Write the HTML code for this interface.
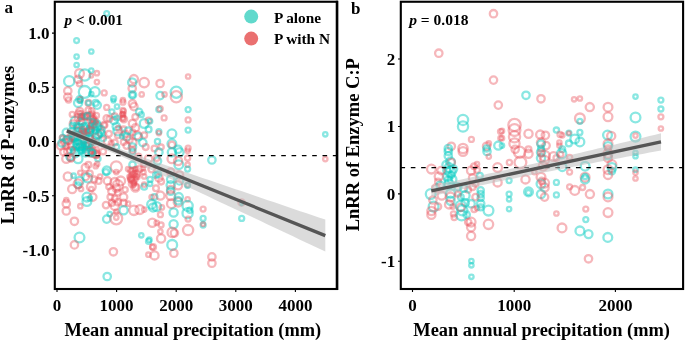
<!DOCTYPE html>
<html><head><meta charset="utf-8"><style>
html,body{margin:0;padding:0;background:#fff;}
svg{display:block;filter:blur(0.35px);}
text{font-family:"Liberation Serif", serif;font-weight:bold;fill:#000;}
.t{stroke:#06cbc2;stroke-opacity:0.47;}
.r{stroke:#e84f5a;stroke-opacity:0.41;}
</style></head><body>
<svg width="685" height="340" viewBox="0 0 685 340">
<rect x="0" y="0" width="685" height="340" fill="#fff"/>
<!-- panel a -->
<text x="4.5" y="13.3" font-size="17">a</text>
<g fill="none" stroke-width="2.3">
<circle class="t" cx="106.7" cy="13.5" r="2.4"/>
<circle class="t" cx="76.6" cy="40.6" r="2.4"/>
<circle class="t" cx="91.3" cy="51.5" r="2.2"/>
<circle class="t" cx="76.6" cy="56.6" r="2.2"/>
<circle class="t" cx="76.6" cy="65.0" r="2.2"/>
<circle class="r" cx="79.5" cy="73.5" r="4.4"/>
<circle class="t" cx="84.7" cy="75.0" r="5.6"/>
<circle class="t" cx="91.3" cy="70.6" r="2.2"/>
<circle class="r" cx="91.3" cy="75.7" r="1.8"/>
<circle class="r" cx="96.9" cy="73.2" r="2.2"/>
<circle class="r" cx="78.1" cy="79.4" r="3.7"/>
<circle class="r" cx="79.5" cy="83.8" r="2.6"/>
<circle class="t" cx="69.2" cy="81.2" r="5.1"/>
<circle class="r" cx="96.9" cy="82.1" r="2.2"/>
<circle class="r" cx="67.8" cy="90.9" r="3.7"/>
<circle class="r" cx="67.8" cy="97.1" r="3.7"/>
<circle class="t" cx="84.7" cy="91.9" r="5.9"/>
<circle class="t" cx="95.0" cy="91.9" r="4.7"/>
<circle class="t" cx="91.3" cy="94.1" r="2.2"/>
<circle class="r" cx="104.2" cy="92.9" r="2.5"/>
<circle class="t" cx="79.5" cy="99.3" r="3.2"/>
<circle class="r" cx="80.3" cy="99.3" r="2.2"/>
<circle class="t" cx="113.6" cy="98.5" r="2.5"/>
<circle class="r" cx="133.9" cy="79.1" r="4.1"/>
<circle class="t" cx="132.2" cy="82.4" r="4.1"/>
<circle class="r" cx="144.2" cy="82.6" r="4.7"/>
<circle class="r" cx="132.2" cy="88.5" r="3.7"/>
<circle class="t" cx="132.5" cy="94.9" r="3.7"/>
<circle class="t" cx="132.5" cy="94.9" r="2.6"/>
<circle class="r" cx="141.7" cy="94.4" r="2.2"/>
<circle class="r" cx="122.9" cy="100.0" r="2.2"/>
<circle class="r" cx="68.5" cy="100.0" r="2.6"/>
<circle class="t" cx="78.1" cy="102.9" r="4.1"/>
<circle class="t" cx="80.3" cy="100.7" r="2.2"/>
<circle class="r" cx="88.4" cy="102.9" r="2.9"/>
<circle class="t" cx="88.4" cy="102.9" r="2.2"/>
<circle class="t" cx="97.2" cy="105.1" r="3.7"/>
<circle class="t" cx="95.7" cy="102.9" r="2.9"/>
<circle class="r" cx="106.7" cy="107.4" r="2.5"/>
<circle class="t" cx="113.4" cy="100.7" r="1.8"/>
<circle class="r" cx="122.9" cy="102.2" r="2.5"/>
<circle class="r" cx="132.5" cy="103.7" r="3.7"/>
<circle class="r" cx="133.9" cy="106.6" r="3.7"/>
<circle class="t" cx="139.1" cy="111.8" r="3.2"/>
<circle class="t" cx="141.3" cy="114.7" r="2.5"/>
<circle class="r" cx="72.2" cy="114.4" r="2.5"/>
<circle class="r" cx="81.0" cy="114.0" r="2.9"/>
<circle class="r" cx="88.4" cy="110.3" r="2.9"/>
<circle class="r" cx="89.8" cy="116.2" r="3.7"/>
<circle class="r" cx="92.0" cy="114.0" r="2.6"/>
<circle class="r" cx="96.4" cy="115.4" r="2.6"/>
<circle class="t" cx="117.0" cy="106.6" r="2.2"/>
<circle class="t" cx="111.9" cy="111.8" r="2.5"/>
<circle class="r" cx="122.9" cy="110.3" r="2.5"/>
<circle class="r" cx="122.9" cy="114.4" r="2.5"/>
<circle class="r" cx="122.9" cy="118.4" r="2.6"/>
<circle class="r" cx="106.7" cy="118.4" r="3.2"/>
<circle class="r" cx="114.8" cy="116.2" r="2.9"/>
<circle class="t" cx="114.1" cy="120.6" r="3.7"/>
<circle class="t" cx="75.1" cy="121.3" r="4.4"/>
<circle class="r" cx="72.9" cy="123.5" r="3.2"/>
<circle class="t" cx="79.5" cy="127.9" r="4.4"/>
<circle class="t" cx="85.4" cy="126.5" r="3.7"/>
<circle class="t" cx="97.2" cy="126.5" r="4.4"/>
<circle class="t" cx="97.2" cy="133.8" r="4.4"/>
<circle class="t" cx="78.1" cy="135.3" r="3.7"/>
<circle class="t" cx="85.4" cy="135.3" r="3.7"/>
<circle class="r" cx="91.3" cy="129.4" r="2.9"/>
<circle class="t" cx="89.8" cy="138.2" r="3.7"/>
<circle class="r" cx="92.8" cy="122.1" r="2.9"/>
<circle class="t" cx="82.5" cy="131.6" r="2.9"/>
<circle class="t" cx="95.7" cy="130.1" r="3.2"/>
<circle class="t" cx="76.6" cy="130.9" r="2.9"/>
<circle class="t" cx="66.3" cy="132.4" r="3.7"/>
<circle class="r" cx="67.8" cy="139.7" r="4.4"/>
<circle class="r" cx="64.8" cy="142.6" r="3.7"/>
<circle class="r" cx="72.2" cy="145.6" r="4.4"/>
<circle class="t" cx="78.1" cy="144.1" r="4.4"/>
<circle class="t" cx="85.4" cy="145.6" r="3.7"/>
<circle class="t" cx="86.9" cy="147.1" r="2.9"/>
<circle class="r" cx="104.5" cy="125.0" r="2.2"/>
<circle class="r" cx="101.6" cy="133.8" r="3.7"/>
<circle class="t" cx="103.1" cy="138.2" r="2.9"/>
<circle class="r" cx="108.9" cy="133.8" r="2.9"/>
<circle class="r" cx="107.5" cy="141.2" r="3.7"/>
<circle class="t" cx="116.3" cy="126.5" r="3.7"/>
<circle class="t" cx="117.8" cy="130.9" r="4.4"/>
<circle class="r" cx="117.8" cy="135.3" r="2.9"/>
<circle class="r" cx="114.8" cy="142.6" r="2.9"/>
<circle class="t" cx="116.3" cy="147.1" r="2.9"/>
<circle class="r" cx="123.6" cy="129.4" r="2.9"/>
<circle class="r" cx="125.1" cy="133.8" r="3.2"/>
<circle class="t" cx="126.6" cy="136.8" r="3.7"/>
<circle class="r" cx="129.5" cy="139.7" r="3.2"/>
<circle class="r" cx="132.5" cy="123.5" r="3.7"/>
<circle class="r" cx="135.4" cy="127.9" r="3.7"/>
<circle class="r" cx="132.5" cy="132.4" r="2.9"/>
<circle class="r" cx="136.9" cy="135.3" r="4.1"/>
<circle class="t" cx="138.4" cy="136.8" r="3.7"/>
<circle class="r" cx="132.5" cy="142.6" r="4.1"/>
<circle class="t" cx="132.5" cy="147.1" r="3.7"/>
<circle class="r" cx="126.6" cy="145.6" r="3.2"/>
<circle class="t" cx="144.2" cy="123.5" r="4.4"/>
<circle class="t" cx="148.6" cy="129.4" r="2.9"/>
<circle class="r" cx="144.2" cy="135.3" r="2.9"/>
<circle class="r" cx="148.6" cy="120.6" r="2.9"/>
<circle class="t" cx="150.1" cy="121.3" r="2.2"/>
<circle class="t" cx="142.8" cy="142.6" r="3.7"/>
<circle class="r" cx="145.7" cy="147.1" r="2.9"/>
<circle class="r" cx="154.5" cy="148.5" r="2.9"/>
<circle class="r" cx="67.8" cy="151.5" r="3.7"/>
<circle class="t" cx="75.1" cy="152.9" r="4.4"/>
<circle class="t" cx="78.1" cy="158.8" r="4.4"/>
<circle class="r" cx="70.7" cy="157.4" r="3.7"/>
<circle class="t" cx="85.4" cy="152.9" r="3.7"/>
<circle class="r" cx="89.8" cy="152.2" r="4.4"/>
<circle class="t" cx="87.6" cy="151.0" r="4.4"/>
<circle class="r" cx="95.7" cy="154.4" r="3.7"/>
<circle class="r" cx="92.8" cy="150.0" r="2.9"/>
<circle class="t" cx="97.9" cy="158.8" r="2.6"/>
<circle class="r" cx="103.1" cy="151.5" r="2.9"/>
<circle class="r" cx="66.3" cy="158.8" r="4.1"/>
<circle class="r" cx="85.4" cy="167.6" r="3.7"/>
<circle class="r" cx="88.4" cy="164.7" r="2.9"/>
<circle class="r" cx="95.7" cy="166.2" r="2.2"/>
<circle class="r" cx="97.2" cy="164.0" r="2.2"/>
<circle class="r" cx="116.3" cy="166.9" r="5.6"/>
<circle class="r" cx="116.3" cy="172.1" r="2.2"/>
<circle class="t" cx="106.7" cy="170.6" r="4.1"/>
<circle class="t" cx="106.0" cy="172.1" r="2.9"/>
<circle class="t" cx="132.5" cy="151.5" r="2.9"/>
<circle class="r" cx="132.5" cy="150.0" r="2.9"/>
<circle class="t" cx="132.5" cy="164.7" r="3.2"/>
<circle class="r" cx="128.1" cy="169.1" r="2.2"/>
<circle class="r" cx="136.1" cy="169.1" r="2.2"/>
<circle class="r" cx="142.8" cy="168.4" r="2.2"/>
<circle class="r" cx="143.5" cy="172.1" r="2.2"/>
<circle class="r" cx="144.2" cy="164.0" r="2.9"/>
<circle class="r" cx="138.4" cy="156.6" r="2.9"/>
<circle class="r" cx="148.6" cy="158.8" r="3.7"/>
<circle class="r" cx="151.6" cy="169.1" r="3.2"/>
<circle class="r" cx="132.5" cy="175.0" r="3.2"/>
<circle class="r" cx="133.9" cy="179.4" r="3.7"/>
<circle class="r" cx="132.5" cy="183.8" r="3.7"/>
<circle class="r" cx="135.4" cy="187.5" r="4.1"/>
<circle class="r" cx="131.0" cy="177.9" r="2.9"/>
<circle class="r" cx="136.9" cy="176.5" r="2.9"/>
<circle class="r" cx="133.9" cy="182.4" r="2.2"/>
<circle class="r" cx="144.2" cy="176.5" r="2.2"/>
<circle class="t" cx="144.2" cy="186.8" r="2.9"/>
<circle class="r" cx="144.2" cy="184.6" r="2.2"/>
<circle class="r" cx="67.8" cy="176.5" r="4.1"/>
<circle class="t" cx="73.6" cy="175.7" r="2.2"/>
<circle class="r" cx="80.3" cy="172.8" r="2.2"/>
<circle class="r" cx="85.4" cy="176.5" r="3.7"/>
<circle class="t" cx="87.6" cy="177.9" r="4.4"/>
<circle class="r" cx="89.8" cy="173.5" r="2.9"/>
<circle class="t" cx="79.5" cy="180.9" r="4.1"/>
<circle class="t" cx="78.1" cy="185.3" r="2.9"/>
<circle class="r" cx="78.1" cy="183.8" r="4.4"/>
<circle class="r" cx="81.0" cy="189.0" r="2.2"/>
<circle class="r" cx="91.3" cy="186.8" r="4.4"/>
<circle class="r" cx="91.3" cy="189.0" r="2.2"/>
<circle class="r" cx="94.2" cy="179.4" r="2.9"/>
<circle class="r" cx="98.6" cy="180.9" r="2.9"/>
<circle class="r" cx="107.5" cy="180.9" r="3.7"/>
<circle class="r" cx="100.1" cy="176.5" r="2.2"/>
<circle class="r" cx="72.2" cy="189.0" r="4.1"/>
<circle class="r" cx="114.8" cy="182.4" r="4.4"/>
<circle class="r" cx="117.8" cy="185.3" r="5.1"/>
<circle class="r" cx="116.3" cy="188.2" r="3.7"/>
<circle class="r" cx="111.9" cy="191.2" r="3.7"/>
<circle class="r" cx="120.7" cy="180.9" r="4.4"/>
<circle class="r" cx="108.9" cy="186.8" r="2.6"/>
<circle class="r" cx="117.8" cy="192.6" r="2.9"/>
<circle class="r" cx="125.1" cy="189.7" r="2.6"/>
<circle class="r" cx="123.6" cy="197.1" r="3.7"/>
<circle class="t" cx="86.9" cy="197.1" r="4.4"/>
<circle class="r" cx="92.8" cy="197.1" r="3.7"/>
<circle class="t" cx="89.8" cy="198.5" r="2.2"/>
<circle class="r" cx="66.3" cy="200.0" r="2.2"/>
<circle class="t" cx="150.1" cy="179.4" r="2.6"/>
<circle class="t" cx="150.1" cy="183.8" r="2.2"/>
<circle class="t" cx="156.0" cy="175.0" r="2.9"/>
<circle class="t" cx="154.5" cy="197.1" r="2.9"/>
<circle class="r" cx="151.6" cy="197.1" r="2.2"/>
<circle class="r" cx="114.8" cy="198.5" r="2.9"/>
<circle class="r" cx="110.4" cy="197.1" r="2.9"/>
<circle class="r" cx="66.3" cy="203.7" r="3.7"/>
<circle class="r" cx="66.3" cy="211.0" r="3.7"/>
<circle class="t" cx="86.9" cy="201.5" r="4.4"/>
<circle class="r" cx="80.3" cy="206.2" r="2.2"/>
<circle class="r" cx="74.4" cy="221.3" r="3.7"/>
<circle class="t" cx="79.5" cy="237.5" r="4.9"/>
<circle class="r" cx="74.4" cy="244.9" r="3.7"/>
<circle class="r" cx="106.0" cy="205.1" r="3.2"/>
<circle class="r" cx="111.9" cy="202.9" r="2.9"/>
<circle class="r" cx="114.8" cy="205.9" r="4.1"/>
<circle class="r" cx="117.8" cy="202.2" r="3.2"/>
<circle class="r" cx="123.6" cy="202.9" r="3.2"/>
<circle class="r" cx="128.1" cy="203.7" r="2.2"/>
<circle class="t" cx="123.6" cy="210.3" r="4.1"/>
<circle class="r" cx="133.9" cy="210.3" r="4.7"/>
<circle class="r" cx="139.8" cy="209.6" r="4.4"/>
<circle class="r" cx="144.2" cy="209.6" r="2.2"/>
<circle class="r" cx="116.3" cy="211.8" r="2.2"/>
<circle class="t" cx="106.7" cy="219.1" r="3.7"/>
<circle class="t" cx="109.7" cy="214.0" r="2.2"/>
<circle class="r" cx="116.3" cy="218.4" r="5.9"/>
<circle class="r" cx="116.3" cy="217.6" r="2.2"/>
<circle class="t" cx="151.6" cy="204.4" r="4.4"/>
<circle class="t" cx="153.1" cy="207.4" r="4.1"/>
<circle class="r" cx="152.3" cy="222.8" r="4.1"/>
<circle class="t" cx="141.3" cy="235.3" r="2.2"/>
<circle class="t" cx="148.6" cy="241.2" r="2.6"/>
<circle class="t" cx="149.4" cy="239.7" r="2.2"/>
<circle class="r" cx="153.1" cy="247.1" r="2.9"/>
<circle class="r" cx="113.4" cy="251.8" r="3.7"/>
<circle class="t" cx="107.2" cy="276.5" r="3.7"/>
<circle class="r" cx="152.3" cy="247.1" r="2.2"/>
<circle class="r" cx="148.4" cy="254.7" r="2.2"/>
<circle class="r" cx="154.5" cy="255.4" r="4.1"/>
<circle class="r" cx="160.1" cy="83.5" r="3.7"/>
<circle class="r" cx="188.1" cy="76.5" r="2.2"/>
<circle class="t" cx="176.3" cy="92.2" r="5.6"/>
<circle class="r" cx="176.3" cy="96.8" r="5.6"/>
<circle class="t" cx="160.1" cy="95.6" r="3.7"/>
<circle class="r" cx="164.5" cy="94.4" r="2.2"/>
<circle class="t" cx="158.9" cy="109.6" r="2.6"/>
<circle class="r" cx="160.1" cy="108.8" r="2.6"/>
<circle class="r" cx="164.1" cy="117.9" r="2.5"/>
<circle class="t" cx="188.1" cy="109.6" r="2.5"/>
<circle class="r" cx="188.1" cy="119.9" r="2.5"/>
<circle class="t" cx="188.1" cy="130.1" r="2.5"/>
<circle class="t" cx="158.9" cy="131.6" r="2.5"/>
<circle class="r" cx="158.9" cy="133.1" r="2.2"/>
<circle class="t" cx="171.9" cy="133.8" r="4.4"/>
<circle class="t" cx="157.5" cy="141.5" r="2.6"/>
<circle class="t" cx="171.9" cy="143.8" r="4.4"/>
<circle class="r" cx="171.9" cy="144.9" r="3.2"/>
<circle class="r" cx="161.1" cy="147.1" r="2.6"/>
<circle class="t" cx="178.1" cy="149.3" r="3.7"/>
<circle class="r" cx="188.1" cy="148.2" r="2.5"/>
<circle class="t" cx="158.9" cy="152.2" r="3.7"/>
<circle class="t" cx="157.5" cy="161.0" r="3.7"/>
<circle class="r" cx="156.7" cy="158.1" r="2.9"/>
<circle class="t" cx="171.9" cy="152.2" r="4.1"/>
<circle class="t" cx="179.5" cy="152.2" r="4.1"/>
<circle class="r" cx="171.9" cy="158.8" r="4.4"/>
<circle class="t" cx="178.8" cy="164.7" r="4.4"/>
<circle class="r" cx="178.1" cy="161.0" r="4.1"/>
<circle class="r" cx="187.6" cy="150.7" r="2.2"/>
<circle class="r" cx="187.6" cy="158.1" r="2.6"/>
<circle class="r" cx="187.6" cy="164.7" r="2.2"/>
<circle class="t" cx="187.6" cy="169.1" r="2.5"/>
<circle class="t" cx="211.9" cy="160.0" r="3.7"/>
<circle class="r" cx="170.7" cy="172.1" r="3.7"/>
<circle class="t" cx="170.7" cy="179.4" r="3.7"/>
<circle class="r" cx="179.5" cy="175.0" r="3.7"/>
<circle class="t" cx="179.5" cy="180.9" r="3.7"/>
<circle class="r" cx="178.1" cy="185.3" r="4.1"/>
<circle class="t" cx="170.7" cy="185.3" r="4.1"/>
<circle class="r" cx="170.7" cy="189.7" r="3.7"/>
<circle class="t" cx="170.7" cy="191.2" r="3.7"/>
<circle class="r" cx="170.7" cy="195.6" r="4.4"/>
<circle class="t" cx="178.8" cy="197.1" r="4.1"/>
<circle class="r" cx="187.6" cy="185.0" r="2.2"/>
<circle class="t" cx="187.6" cy="185.3" r="2.5"/>
<circle class="r" cx="158.9" cy="177.9" r="3.7"/>
<circle class="t" cx="158.2" cy="174.3" r="2.9"/>
<circle class="r" cx="161.1" cy="181.6" r="2.9"/>
<circle class="r" cx="160.4" cy="195.6" r="4.1"/>
<circle class="r" cx="156.0" cy="188.2" r="2.9"/>
<circle class="r" cx="187.6" cy="199.3" r="2.2"/>
<circle class="t" cx="156.7" cy="206.6" r="4.4"/>
<circle class="r" cx="161.9" cy="207.4" r="2.2"/>
<circle class="r" cx="160.4" cy="214.7" r="2.5"/>
<circle class="r" cx="161.1" cy="225.0" r="2.5"/>
<circle class="r" cx="160.4" cy="231.6" r="2.2"/>
<circle class="r" cx="161.1" cy="238.5" r="4.1"/>
<circle class="r" cx="156.7" cy="222.8" r="2.2"/>
<circle class="r" cx="171.4" cy="203.7" r="4.4"/>
<circle class="r" cx="178.1" cy="202.2" r="4.4"/>
<circle class="t" cx="178.1" cy="200.7" r="3.7"/>
<circle class="t" cx="173.6" cy="212.5" r="4.1"/>
<circle class="t" cx="173.6" cy="224.3" r="4.1"/>
<circle class="r" cx="172.2" cy="232.4" r="4.7"/>
<circle class="r" cx="174.4" cy="233.1" r="3.7"/>
<circle class="t" cx="172.2" cy="244.9" r="4.9"/>
<circle class="t" cx="187.6" cy="205.9" r="5.1"/>
<circle class="t" cx="187.6" cy="213.2" r="5.1"/>
<circle class="t" cx="189.8" cy="210.3" r="2.6"/>
<circle class="r" cx="188.1" cy="219.1" r="2.5"/>
<circle class="r" cx="188.1" cy="230.1" r="5.1"/>
<circle class="r" cx="203.1" cy="209.1" r="2.5"/>
<circle class="t" cx="203.1" cy="218.4" r="2.5"/>
<circle class="t" cx="203.1" cy="225.0" r="2.5"/>
<circle class="r" cx="203.1" cy="224.3" r="1.9"/>
<circle class="r" cx="241.6" cy="202.5" r="3.2"/>
<circle class="t" cx="241.6" cy="204.0" r="1.3"/>
<circle class="t" cx="241.7" cy="218.4" r="2.5"/>
<circle class="r" cx="173.9" cy="253.2" r="3.7"/>
<circle class="r" cx="211.9" cy="256.9" r="3.7"/>
<circle class="r" cx="211.9" cy="263.2" r="3.7"/>
<circle class="t" cx="325.3" cy="134.3" r="2.2"/>
<circle class="r" cx="325.3" cy="159.1" r="2.2"/>
<circle class="r" cx="80.4" cy="121.2" r="3.4"/>
<circle class="r" cx="86.9" cy="116.4" r="3.2"/>
<circle class="r" cx="79.7" cy="111.3" r="3.5"/>
<circle class="r" cx="91.7" cy="111.0" r="2.8"/>
<circle class="t" cx="82.1" cy="122.3" r="3.6"/>
<circle class="r" cx="78.5" cy="117.5" r="3.7"/>
<circle class="r" cx="81.9" cy="116.1" r="2.1"/>
<circle class="r" cx="85.9" cy="116.9" r="2.4"/>
<circle class="t" cx="81.9" cy="116.5" r="2.5"/>
<circle class="r" cx="93.1" cy="117.7" r="3.2"/>
<circle class="r" cx="95.9" cy="121.3" r="2.2"/>
<circle class="r" cx="91.0" cy="119.5" r="3.7"/>
<circle class="r" cx="92.9" cy="119.0" r="2.5"/>
<circle class="r" cx="93.9" cy="121.2" r="2.9"/>
<circle class="r" cx="78.6" cy="113.9" r="3.4"/>
<circle class="r" cx="81.1" cy="117.6" r="3.3"/>
<circle class="r" cx="84.7" cy="116.3" r="2.9"/>
<circle class="t" cx="87.4" cy="115.7" r="2.9"/>
<circle class="t" cx="90.2" cy="148.7" r="2.1"/>
<circle class="t" cx="87.9" cy="143.4" r="3.3"/>
<circle class="t" cx="83.5" cy="140.2" r="3.2"/>
<circle class="r" cx="80.2" cy="134.8" r="3.4"/>
<circle class="t" cx="90.0" cy="138.6" r="2.9"/>
<circle class="t" cx="72.7" cy="125.7" r="2.9"/>
<circle class="t" cx="79.2" cy="147.3" r="3.1"/>
<circle class="t" cx="76.5" cy="125.6" r="2.7"/>
<circle class="t" cx="81.7" cy="150.0" r="3.3"/>
<circle class="r" cx="89.0" cy="144.9" r="3.5"/>
<circle class="r" cx="86.5" cy="144.7" r="2.7"/>
<circle class="t" cx="90.3" cy="129.0" r="3.5"/>
<circle class="r" cx="80.8" cy="138.3" r="3.0"/>
<circle class="r" cx="81.5" cy="145.8" r="2.7"/>
<circle class="r" cx="89.1" cy="136.5" r="3.1"/>
<circle class="t" cx="85.8" cy="137.2" r="2.4"/>
<circle class="t" cx="85.3" cy="129.2" r="3.8"/>
<circle class="t" cx="89.3" cy="132.7" r="3.9"/>
<circle class="t" cx="81.6" cy="137.9" r="3.3"/>
<circle class="r" cx="77.9" cy="130.2" r="3.0"/>
<circle class="t" cx="83.8" cy="126.9" r="3.6"/>
<circle class="t" cx="89.2" cy="129.8" r="3.5"/>
<circle class="r" cx="84.4" cy="131.8" r="2.5"/>
<circle class="t" cx="74.0" cy="138.1" r="3.7"/>
<circle class="t" cx="76.0" cy="147.0" r="2.8"/>
<circle class="t" cx="72.6" cy="134.1" r="2.3"/>
<circle class="t" cx="73.6" cy="148.9" r="2.1"/>
<circle class="t" cx="72.4" cy="131.4" r="3.6"/>
<circle class="t" cx="75.5" cy="142.3" r="2.8"/>
<circle class="t" cx="90.8" cy="128.8" r="2.1"/>
<circle class="t" cx="83.7" cy="143.6" r="2.2"/>
<circle class="t" cx="72.6" cy="136.2" r="3.5"/>
<circle class="t" cx="89.1" cy="143.9" r="3.7"/>
<circle class="t" cx="81.0" cy="130.6" r="3.3"/>
<circle class="t" cx="73.9" cy="136.2" r="3.7"/>
<circle class="t" cx="83.1" cy="134.8" r="3.0"/>
<circle class="t" cx="90.2" cy="131.5" r="3.2"/>
<circle class="t" cx="72.3" cy="138.9" r="2.3"/>
<circle class="r" cx="96.0" cy="137.1" r="3.2"/>
<circle class="t" cx="96.9" cy="141.2" r="2.0"/>
<circle class="t" cx="98.5" cy="134.9" r="3.4"/>
<circle class="t" cx="94.8" cy="125.7" r="2.8"/>
<circle class="r" cx="91.1" cy="125.0" r="2.4"/>
<circle class="t" cx="97.1" cy="123.7" r="3.2"/>
<circle class="r" cx="95.9" cy="122.9" r="2.0"/>
<circle class="r" cx="92.7" cy="125.0" r="3.5"/>
<circle class="t" cx="93.3" cy="142.1" r="2.8"/>
<circle class="r" cx="92.6" cy="141.6" r="3.0"/>
<circle class="t" cx="98.1" cy="126.9" r="2.5"/>
<circle class="t" cx="92.2" cy="121.5" r="2.5"/>
<circle class="r" cx="84.0" cy="132.8" r="2.1"/>
<circle class="r" cx="82.8" cy="130.0" r="3.0"/>
<circle class="r" cx="87.8" cy="130.8" r="2.5"/>
<circle class="r" cx="96.6" cy="155.5" r="2.7"/>
<circle class="r" cx="91.0" cy="153.3" r="2.7"/>
<circle class="r" cx="93.6" cy="154.8" r="2.4"/>
<circle class="r" cx="96.1" cy="149.8" r="2.8"/>
<circle class="r" cx="92.4" cy="151.8" r="3.2"/>
<circle class="r" cx="96.6" cy="153.6" r="3.3"/>
<circle class="t" cx="81.0" cy="146.4" r="3.7"/>
<circle class="t" cx="82.2" cy="146.8" r="2.3"/>
<circle class="t" cx="84.6" cy="149.9" r="2.2"/>
<circle class="t" cx="73.8" cy="150.1" r="3.2"/>
<circle class="t" cx="91.6" cy="152.5" r="3.2"/>
<circle class="t" cx="75.1" cy="138.2" r="3.0"/>
<circle class="t" cx="75.8" cy="141.6" r="2.1"/>
<circle class="t" cx="80.8" cy="150.6" r="2.9"/>
<circle class="t" cx="82.0" cy="147.9" r="2.8"/>
<circle class="t" cx="92.0" cy="152.9" r="3.5"/>
<circle class="t" cx="78.3" cy="141.4" r="2.5"/>
<circle class="t" cx="87.3" cy="144.0" r="3.5"/>
<circle class="r" cx="132.4" cy="171.0" r="3.0"/>
<circle class="r" cx="134.6" cy="175.3" r="2.1"/>
<circle class="r" cx="129.4" cy="176.7" r="2.1"/>
<circle class="r" cx="133.5" cy="184.5" r="2.2"/>
<circle class="r" cx="135.6" cy="187.0" r="2.9"/>
<circle class="r" cx="139.3" cy="168.9" r="3.3"/>
<circle class="r" cx="130.5" cy="170.4" r="2.5"/>
<circle class="r" cx="130.9" cy="179.6" r="3.0"/>
<circle class="r" cx="134.8" cy="169.3" r="2.1"/>
<circle class="r" cx="136.1" cy="176.6" r="2.5"/>
<circle class="r" cx="133.8" cy="174.0" r="3.2"/>
<circle class="r" cx="131.6" cy="179.5" r="2.8"/>
<circle class="r" cx="136.7" cy="173.8" r="3.5"/>
<circle class="r" cx="133.4" cy="183.1" r="2.2"/>
<circle class="r" cx="118.5" cy="128.1" r="2.3"/>
<circle class="t" cx="100.3" cy="132.6" r="3.8"/>
<circle class="t" cx="122.2" cy="136.6" r="2.1"/>
<circle class="t" cx="128.1" cy="130.8" r="3.5"/>
<circle class="r" cx="109.5" cy="118.9" r="3.0"/>
<circle class="r" cx="123.6" cy="142.1" r="2.8"/>
<circle class="r" cx="104.1" cy="125.2" r="3.3"/>
<circle class="t" cx="116.9" cy="118.1" r="2.5"/>
<circle class="r" cx="111.2" cy="143.3" r="2.4"/>
<circle class="r" cx="135.2" cy="116.9" r="2.8"/>
<circle class="t" cx="100.9" cy="129.9" r="3.8"/>
<circle class="r" cx="123.9" cy="119.2" r="3.2"/>
<circle class="r" cx="122.6" cy="114.4" r="2.1"/>
<circle class="r" cx="123.1" cy="117.6" r="2.2"/>
<circle class="r" cx="122.5" cy="113.6" r="1.9"/>
<circle class="r" cx="123.5" cy="111.4" r="2.3"/>
<circle class="t" cx="62.8" cy="137.8" r="2.8"/>
<circle class="r" cx="60.8" cy="145.8" r="3.8"/>
<circle class="r" cx="69.2" cy="141.0" r="3.1"/>
<circle class="r" cx="62.1" cy="137.9" r="2.4"/>
<circle class="t" cx="69.9" cy="156.8" r="3.6"/>
<circle class="r" cx="63.7" cy="151.9" r="3.5"/>
<circle class="r" cx="70.6" cy="137.3" r="3.2"/>
<circle class="t" cx="66.1" cy="139.8" r="2.9"/>
<circle class="r" cx="71.2" cy="158.4" r="3.1"/>
<circle class="r" cx="70.9" cy="150.5" r="3.8"/>
<circle class="r" cx="66.1" cy="146.2" r="3.2"/>
<circle class="t" cx="61.9" cy="143.2" r="3.6"/>
</g>
<line x1="54.2" y1="155.6" x2="336" y2="155.6" stroke="#000" stroke-width="1.2" stroke-dasharray="4.6 5.72"/>
<polygon points="66.8,127.4 73.3,130.2 79.7,133.0 86.2,135.7 92.7,138.4 99.1,141.0 105.6,143.5 112.0,146.0 118.5,148.4 125.0,150.8 131.4,153.1 137.9,155.5 144.3,157.8 150.8,160.0 157.3,162.3 163.7,164.6 170.2,166.8 176.7,169.0 183.1,171.3 189.6,173.5 196.1,175.7 202.5,177.9 209.0,180.1 215.4,182.3 221.9,184.5 228.4,186.7 234.8,188.9 241.3,191.1 247.8,193.3 254.2,195.5 260.7,197.7 267.1,199.9 273.6,202.1 280.1,204.3 286.5,206.5 293.0,208.7 299.4,210.9 305.9,213.1 312.4,215.3 318.8,217.4 325.3,219.6 325.3,251.6 318.8,248.5 312.4,245.5 305.9,242.4 299.4,239.4 293.0,236.3 286.5,233.3 280.1,230.2 273.6,227.2 267.1,224.2 260.7,221.1 254.2,218.1 247.8,215.0 241.3,212.0 234.8,209.0 228.4,205.9 221.9,202.9 215.4,199.9 209.0,196.8 202.5,193.8 196.1,190.8 189.6,187.8 183.1,184.8 176.7,181.8 170.2,178.8 163.7,175.8 157.3,172.8 150.8,169.8 144.3,166.9 137.9,163.9 131.4,161.0 125.0,158.1 118.5,155.3 112.0,152.5 105.6,149.7 99.1,147.0 92.7,144.4 86.2,141.8 79.7,139.3 73.3,136.8 66.8,134.4" fill="#bdbdbd" fill-opacity="0.55"/>
<line x1="66.8" y1="130.9" x2="325.3" y2="235.6" stroke="#555" stroke-width="3.3"/>
<rect x="54.8" y="1.75" width="282.1" height="287.25" fill="none" stroke="#000" stroke-width="2.1"/>
<line x1="337.1" y1="0.7" x2="337.1" y2="290.1" stroke="#000" stroke-width="2.5"/>
<g stroke="#000" stroke-width="1.1">
<line x1="52" y1="33.1" x2="54" y2="33.1"/>
<line x1="52" y1="87.3" x2="54" y2="87.3"/>
<line x1="52" y1="141.5" x2="54" y2="141.5"/>
<line x1="52" y1="195.7" x2="54" y2="195.7"/>
<line x1="52" y1="249.9" x2="54" y2="249.9"/>
<line x1="57" y1="290" x2="57" y2="292"/>
<line x1="116.6" y1="290" x2="116.6" y2="292"/>
<line x1="176.2" y1="290" x2="176.2" y2="292"/>
<line x1="235.8" y1="290" x2="235.8" y2="292"/>
<line x1="295.4" y1="290" x2="295.4" y2="292"/>
</g>
<g font-size="17" text-anchor="end">
<text x="49.5" y="38.9">1.0</text>
<text x="49.5" y="93.1">0.5</text>
<text x="49.5" y="147.3">0.0</text>
<text x="49.5" y="201.5">-0.5</text>
<text x="49.5" y="255.7">-1.0</text>
</g>
<g font-size="17" text-anchor="middle">
<text x="57" y="311">0</text>
<text x="116.6" y="311">1000</text>
<text x="176.2" y="311">2000</text>
<text x="235.8" y="311">3000</text>
<text x="295.4" y="311">4000</text>
</g>
<text x="192.9" y="335.9" font-size="18.4" text-anchor="middle">Mean annual precipitation (mm)</text>
<text transform="translate(14,145) rotate(-90)" font-size="18.5" text-anchor="middle">LnRR of P-enzymes</text>
<text x="64.5" y="24.7" font-size="15.3"><tspan font-style="italic">p</tspan> &lt; 0.001</text>
<circle cx="251.2" cy="16.6" r="7" fill="#61d9cc"/>
<circle cx="251.2" cy="38.6" r="7" fill="#ea7070"/>
<text x="273.9" y="23.3" font-size="15.3">P alone</text>
<text x="273.9" y="43.7" font-size="15.3">P with N</text>

<!-- panel b -->
<text x="351" y="13.6" font-size="17">b</text>
<g fill="none" stroke-width="2.3">
<circle class="r" cx="493.5" cy="13.7" r="3.7"/>
<circle class="r" cx="438.8" cy="53.2" r="3.7"/>
<circle class="r" cx="493.5" cy="80.1" r="3.7"/>
<circle class="r" cx="498.3" cy="105.1" r="3.7"/>
<circle class="t" cx="463.0" cy="119.9" r="5.1"/>
<circle class="t" cx="463.0" cy="126.5" r="5.1"/>
<circle class="r" cx="471.4" cy="139.4" r="2.5"/>
<circle class="r" cx="500.5" cy="131.6" r="2.5"/>
<circle class="r" cx="500.5" cy="138.2" r="2.2"/>
<circle class="r" cx="451.3" cy="146.3" r="3.7"/>
<circle class="t" cx="448.3" cy="148.5" r="3.7"/>
<circle class="r" cx="463.0" cy="148.5" r="4.7"/>
<circle class="r" cx="486.6" cy="146.3" r="3.7"/>
<circle class="r" cx="488.8" cy="143.4" r="2.2"/>
<circle class="t" cx="486.6" cy="148.5" r="3.2"/>
<circle class="t" cx="498.3" cy="145.6" r="4.1"/>
<circle class="t" cx="448.3" cy="151.5" r="3.7"/>
<circle class="t" cx="448.3" cy="155.9" r="3.7"/>
<circle class="t" cx="450.5" cy="161.8" r="4.4"/>
<circle class="r" cx="451.3" cy="162.5" r="3.7"/>
<circle class="t" cx="449.1" cy="167.6" r="4.4"/>
<circle class="t" cx="450.5" cy="172.1" r="5.1"/>
<circle class="t" cx="447.6" cy="176.5" r="4.4"/>
<circle class="t" cx="452.0" cy="179.4" r="4.4"/>
<circle class="t" cx="449.1" cy="183.8" r="4.4"/>
<circle class="t" cx="446.1" cy="164.7" r="3.7"/>
<circle class="t" cx="453.5" cy="169.1" r="3.7"/>
<circle class="t" cx="446.9" cy="170.6" r="3.7"/>
<circle class="t" cx="451.3" cy="175.0" r="3.2"/>
<circle class="t" cx="448.3" cy="180.1" r="3.7"/>
<circle class="r" cx="463.0" cy="151.5" r="4.4"/>
<circle class="t" cx="487.0" cy="151.5" r="3.7"/>
<circle class="r" cx="488.8" cy="156.6" r="2.2"/>
<circle class="r" cx="431.4" cy="169.1" r="4.4"/>
<circle class="r" cx="438.8" cy="176.5" r="4.1"/>
<circle class="r" cx="441.0" cy="170.6" r="3.7"/>
<circle class="r" cx="438.0" cy="181.6" r="2.9"/>
<circle class="r" cx="471.1" cy="170.6" r="4.1"/>
<circle class="r" cx="474.1" cy="166.2" r="2.9"/>
<circle class="r" cx="477.0" cy="164.0" r="2.2"/>
<circle class="r" cx="477.0" cy="169.9" r="2.9"/>
<circle class="t" cx="479.9" cy="175.7" r="2.9"/>
<circle class="r" cx="472.6" cy="177.9" r="3.7"/>
<circle class="r" cx="497.6" cy="167.6" r="4.4"/>
<circle class="r" cx="497.6" cy="182.4" r="4.1"/>
<circle class="t" cx="430.7" cy="194.1" r="4.9"/>
<circle class="r" cx="435.8" cy="188.2" r="3.7"/>
<circle class="t" cx="440.2" cy="185.3" r="3.7"/>
<circle class="r" cx="441.7" cy="195.6" r="4.1"/>
<circle class="t" cx="450.5" cy="193.4" r="4.4"/>
<circle class="r" cx="450.5" cy="197.1" r="4.4"/>
<circle class="t" cx="457.9" cy="186.8" r="3.7"/>
<circle class="t" cx="463.8" cy="188.2" r="3.7"/>
<circle class="r" cx="468.2" cy="189.7" r="2.9"/>
<circle class="t" cx="465.2" cy="195.6" r="4.4"/>
<circle class="r" cx="472.6" cy="186.8" r="3.2"/>
<circle class="r" cx="475.5" cy="183.8" r="2.9"/>
<circle class="t" cx="480.7" cy="190.4" r="3.2"/>
<circle class="t" cx="480.7" cy="194.1" r="3.2"/>
<circle class="t" cx="480.7" cy="197.8" r="3.2"/>
<circle class="r" cx="475.5" cy="197.1" r="3.2"/>
<circle class="t" cx="460.8" cy="197.1" r="2.9"/>
<circle class="r" cx="457.9" cy="194.1" r="2.6"/>
<circle class="t" cx="433.6" cy="206.6" r="4.9"/>
<circle class="r" cx="431.4" cy="211.0" r="4.1"/>
<circle class="r" cx="431.4" cy="214.7" r="4.1"/>
<circle class="r" cx="438.0" cy="206.6" r="3.2"/>
<circle class="r" cx="432.9" cy="200.0" r="3.7"/>
<circle class="t" cx="450.5" cy="200.7" r="4.1"/>
<circle class="r" cx="449.1" cy="204.4" r="4.1"/>
<circle class="r" cx="453.5" cy="214.0" r="2.6"/>
<circle class="r" cx="454.2" cy="217.6" r="2.6"/>
<circle class="r" cx="452.7" cy="206.6" r="2.2"/>
<circle class="t" cx="460.8" cy="205.9" r="5.1"/>
<circle class="t" cx="462.3" cy="210.3" r="5.1"/>
<circle class="t" cx="461.6" cy="215.4" r="4.9"/>
<circle class="r" cx="460.8" cy="207.4" r="3.7"/>
<circle class="t" cx="466.7" cy="214.7" r="3.2"/>
<circle class="t" cx="465.2" cy="202.9" r="3.7"/>
<circle class="t" cx="471.1" cy="203.7" r="3.7"/>
<circle class="r" cx="474.1" cy="209.6" r="2.6"/>
<circle class="r" cx="477.0" cy="208.1" r="2.2"/>
<circle class="t" cx="480.7" cy="203.7" r="3.7"/>
<circle class="t" cx="480.7" cy="207.4" r="2.9"/>
<circle class="r" cx="468.2" cy="222.1" r="3.2"/>
<circle class="r" cx="471.1" cy="222.1" r="4.4"/>
<circle class="r" cx="471.1" cy="227.2" r="4.1"/>
<circle class="r" cx="471.1" cy="236.0" r="4.1"/>
<circle class="t" cx="488.5" cy="210.6" r="4.9"/>
<circle class="r" cx="488.5" cy="224.3" r="4.7"/>
<circle class="t" cx="471.4" cy="261.0" r="2.2"/>
<circle class="t" cx="471.4" cy="265.3" r="2.2"/>
<circle class="t" cx="471.4" cy="276.8" r="2.2"/>
<circle class="t" cx="526.0" cy="95.3" r="3.7"/>
<circle class="r" cx="541.0" cy="98.8" r="3.7"/>
<circle class="r" cx="574.1" cy="99.3" r="2.2"/>
<circle class="r" cx="579.9" cy="98.5" r="2.2"/>
<circle class="r" cx="589.8" cy="107.1" r="4.1"/>
<circle class="r" cx="579.9" cy="118.4" r="4.9"/>
<circle class="t" cx="579.9" cy="121.3" r="2.5"/>
<circle class="r" cx="514.5" cy="125.0" r="6.2"/>
<circle class="r" cx="514.5" cy="130.1" r="5.9"/>
<circle class="r" cx="514.5" cy="136.8" r="5.6"/>
<circle class="r" cx="514.5" cy="143.4" r="5.1"/>
<circle class="r" cx="515.2" cy="149.3" r="3.7"/>
<circle class="r" cx="502.0" cy="130.9" r="2.2"/>
<circle class="r" cx="502.0" cy="138.2" r="2.2"/>
<circle class="t" cx="502.0" cy="145.6" r="2.2"/>
<circle class="r" cx="528.5" cy="133.8" r="4.1"/>
<circle class="r" cx="540.2" cy="134.6" r="4.1"/>
<circle class="r" cx="545.4" cy="135.3" r="3.7"/>
<circle class="r" cx="541.0" cy="142.6" r="4.1"/>
<circle class="r" cx="546.1" cy="145.6" r="3.7"/>
<circle class="t" cx="541.0" cy="144.1" r="3.7"/>
<circle class="t" cx="541.0" cy="148.5" r="2.9"/>
<circle class="r" cx="528.5" cy="149.3" r="2.9"/>
<circle class="t" cx="556.4" cy="130.1" r="2.6"/>
<circle class="r" cx="560.1" cy="134.6" r="2.6"/>
<circle class="r" cx="559.4" cy="142.6" r="2.2"/>
<circle class="r" cx="559.4" cy="145.6" r="2.2"/>
<circle class="r" cx="562.3" cy="135.3" r="2.2"/>
<circle class="t" cx="562.3" cy="149.3" r="2.9"/>
<circle class="t" cx="568.9" cy="133.1" r="2.5"/>
<circle class="r" cx="568.9" cy="133.1" r="1.8"/>
<circle class="t" cx="574.8" cy="139.0" r="4.4"/>
<circle class="t" cx="579.9" cy="132.4" r="2.5"/>
<circle class="t" cx="579.9" cy="141.9" r="4.4"/>
<circle class="t" cx="568.9" cy="143.4" r="2.9"/>
<circle class="r" cx="519.6" cy="152.2" r="5.6"/>
<circle class="r" cx="528.5" cy="153.7" r="4.1"/>
<circle class="r" cx="520.4" cy="162.5" r="5.9"/>
<circle class="r" cx="509.4" cy="162.5" r="2.6"/>
<circle class="t" cx="541.0" cy="152.2" r="4.1"/>
<circle class="t" cx="541.0" cy="158.1" r="4.1"/>
<circle class="r" cx="541.0" cy="152.9" r="2.9"/>
<circle class="r" cx="544.6" cy="155.9" r="5.1"/>
<circle class="r" cx="544.6" cy="160.3" r="4.4"/>
<circle class="r" cx="543.2" cy="166.2" r="4.4"/>
<circle class="r" cx="553.5" cy="156.6" r="4.4"/>
<circle class="r" cx="556.4" cy="158.1" r="2.9"/>
<circle class="t" cx="561.6" cy="153.7" r="4.7"/>
<circle class="r" cx="560.8" cy="154.4" r="2.6"/>
<circle class="r" cx="569.6" cy="157.4" r="2.6"/>
<circle class="r" cx="569.6" cy="172.1" r="2.5"/>
<circle class="t" cx="562.3" cy="166.9" r="4.1"/>
<circle class="r" cx="534.4" cy="172.1" r="2.2"/>
<circle class="t" cx="585.1" cy="166.2" r="4.4"/>
<circle class="r" cx="585.1" cy="177.2" r="4.4"/>
<circle class="t" cx="585.1" cy="179.4" r="4.1"/>
<circle class="t" cx="585.1" cy="176.5" r="2.6"/>
<circle class="t" cx="509.1" cy="180.6" r="2.5"/>
<circle class="r" cx="525.5" cy="179.4" r="4.1"/>
<circle class="r" cx="541.0" cy="177.2" r="4.4"/>
<circle class="t" cx="541.0" cy="183.8" r="4.4"/>
<circle class="r" cx="544.6" cy="183.1" r="4.4"/>
<circle class="r" cx="544.6" cy="187.5" r="4.1"/>
<circle class="r" cx="541.7" cy="180.9" r="3.2"/>
<circle class="t" cx="556.4" cy="182.4" r="2.5"/>
<circle class="t" cx="528.5" cy="191.9" r="4.4"/>
<circle class="t" cx="528.5" cy="192.6" r="2.6"/>
<circle class="t" cx="541.0" cy="194.1" r="4.1"/>
<circle class="r" cx="544.6" cy="197.1" r="3.7"/>
<circle class="t" cx="509.1" cy="194.1" r="2.5"/>
<circle class="t" cx="509.1" cy="199.3" r="2.2"/>
<circle class="t" cx="556.4" cy="194.9" r="2.5"/>
<circle class="r" cx="569.6" cy="186.8" r="2.5"/>
<circle class="r" cx="574.8" cy="190.4" r="4.4"/>
<circle class="r" cx="582.6" cy="187.5" r="2.5"/>
<circle class="r" cx="589.9" cy="194.1" r="4.1"/>
<circle class="t" cx="509.1" cy="209.1" r="2.2"/>
<circle class="r" cx="556.4" cy="213.5" r="2.2"/>
<circle class="r" cx="562.0" cy="227.9" r="4.4"/>
<circle class="r" cx="585.8" cy="209.1" r="2.5"/>
<circle class="t" cx="585.8" cy="219.6" r="2.5"/>
<circle class="t" cx="579.9" cy="230.9" r="4.4"/>
<circle class="t" cx="588.5" cy="234.1" r="4.0"/>
<circle class="r" cx="588.5" cy="258.8" r="3.7"/>
<circle class="r" cx="608.0" cy="107.2" r="4.4"/>
<circle class="r" cx="608.0" cy="116.8" r="4.4"/>
<circle class="t" cx="635.5" cy="96.6" r="2.2"/>
<circle class="t" cx="635.5" cy="117.5" r="4.9"/>
<circle class="t" cx="660.9" cy="100.1" r="2.5"/>
<circle class="t" cx="660.9" cy="109.0" r="2.5"/>
<circle class="r" cx="660.9" cy="116.8" r="2.5"/>
<circle class="r" cx="660.9" cy="128.5" r="2.2"/>
<circle class="t" cx="607.5" cy="135.1" r="4.4"/>
<circle class="r" cx="611.2" cy="135.9" r="4.1"/>
<circle class="t" cx="635.5" cy="136.6" r="4.9"/>
<circle class="r" cx="635.5" cy="135.6" r="2.2"/>
<circle class="r" cx="608.0" cy="144.0" r="4.4"/>
<circle class="t" cx="608.0" cy="146.2" r="4.1"/>
<circle class="r" cx="608.0" cy="148.4" r="2.9"/>
<circle class="r" cx="608.0" cy="153.5" r="4.4"/>
<circle class="t" cx="608.0" cy="155.7" r="3.7"/>
<circle class="r" cx="608.0" cy="157.9" r="4.1"/>
<circle class="t" cx="635.5" cy="152.8" r="2.2"/>
<circle class="t" cx="635.5" cy="156.2" r="2.2"/>
<circle class="r" cx="611.9" cy="164.6" r="4.4"/>
<circle class="t" cx="611.9" cy="167.5" r="4.4"/>
<circle class="r" cx="608.0" cy="169.7" r="4.4"/>
<circle class="t" cx="611.9" cy="171.2" r="3.2"/>
<circle class="r" cx="608.0" cy="174.9" r="4.1"/>
<circle class="t" cx="635.5" cy="169.7" r="2.2"/>
<circle class="r" cx="635.5" cy="172.6" r="2.2"/>
<circle class="r" cx="635.5" cy="178.5" r="2.2"/>
<circle class="t" cx="608.0" cy="194.0" r="4.4"/>
<circle class="r" cx="608.0" cy="196.9" r="4.4"/>
<circle class="r" cx="608.0" cy="212.6" r="4.4"/>
<circle class="t" cx="607.8" cy="237.4" r="4.4"/>
</g>
<line x1="400.5" y1="167.7" x2="683" y2="167.7" stroke="#000" stroke-width="1.2" stroke-dasharray="4.6 5.72"/>
<polygon points="431.3,185.6 437.0,184.4 442.8,183.2 448.5,182.1 454.3,180.9 460.0,179.7 465.8,178.5 471.5,177.3 477.2,176.1 483.0,174.9 488.7,173.6 494.5,172.4 500.2,171.1 506.0,169.9 511.7,168.6 517.4,167.3 523.2,166.0 528.9,164.7 534.7,163.4 540.4,162.1 546.1,160.8 551.9,159.5 557.6,158.1 563.4,156.8 569.1,155.4 574.9,154.1 580.6,152.7 586.3,151.3 592.1,150.0 597.8,148.6 603.6,147.2 609.3,145.8 615.1,144.5 620.8,143.1 626.5,141.7 632.3,140.3 638.0,138.9 643.8,137.5 649.5,136.1 655.3,134.7 661.0,133.3 661.0,150.5 655.3,151.6 649.5,152.6 643.8,153.7 638.0,154.7 632.3,155.8 626.5,156.8 620.8,157.9 615.1,158.9 609.3,160.0 603.6,161.1 597.8,162.1 592.1,163.2 586.3,164.3 580.6,165.4 574.9,166.5 569.1,167.6 563.4,168.7 557.6,169.8 551.9,170.9 546.1,172.0 540.4,173.1 534.7,174.3 528.9,175.4 523.2,176.6 517.4,177.7 511.7,178.9 506.0,180.1 500.2,181.3 494.5,182.5 488.7,183.7 483.0,184.9 477.2,186.1 471.5,187.3 465.8,188.6 460.0,189.8 454.3,191.1 448.5,192.4 442.8,193.7 437.0,194.9 431.3,196.2" fill="#bdbdbd" fill-opacity="0.55"/>
<line x1="431.3" y1="190.9" x2="661" y2="141.9" stroke="#555" stroke-width="3.3"/>
<rect x="400.8" y="1.75" width="282.3" height="287.25" fill="none" stroke="#000" stroke-width="2.1"/>
<g stroke="#000" stroke-width="1.1">
<line x1="398" y1="59" x2="400" y2="59"/>
<line x1="398" y1="126.5" x2="400" y2="126.5"/>
<line x1="398" y1="193.9" x2="400" y2="193.9"/>
<line x1="398" y1="261.3" x2="400" y2="261.3"/>
<line x1="412.5" y1="290" x2="412.5" y2="292"/>
<line x1="514.2" y1="290" x2="514.2" y2="292"/>
<line x1="615.4" y1="290" x2="615.4" y2="292"/>
</g>
<g font-size="17" text-anchor="end">
<text x="395.2" y="64.8">2</text>
<text x="395.2" y="132.3">1</text>
<text x="395.2" y="199.7">0</text>
<text x="395.2" y="267.1">-1</text>
</g>
<g font-size="17" text-anchor="middle">
<text x="412.5" y="311">0</text>
<text x="514.2" y="311">1000</text>
<text x="615.4" y="311">2000</text>
</g>
<text x="541.6" y="335.9" font-size="18.4" text-anchor="middle">Mean annual precipitation (mm)</text>
<text transform="translate(359,144.75) rotate(-90)" font-size="18.5" text-anchor="middle">LnRR of Enzyme C:P</text>
<text x="409.2" y="24.7" font-size="15.5"><tspan font-style="italic">p</tspan> = 0.018</text>
</svg>
</body></html>
